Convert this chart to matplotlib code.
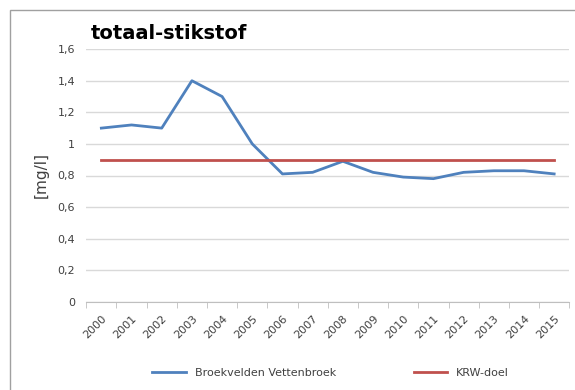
import matplotlib.pyplot as plt
import numpy as np

jaren = [str(j) for j in range(2000, 2016)]
stikstof = [1.10, 1.12, 1.10, 1.40, 1.30, 1.00, 0.81, 0.82, 0.89, 0.82, 0.79, 0.78, 0.82, 0.83, 0.83, 0.81]
krw_doel = [0.9] * 16

fig = plt.figure(figsize=(5.75, 3.9), dpi=100)
ax = fig.add_axes([0.15, 0.226, 0.84, 0.648])

x = np.arange(len(jaren))
ax.plot(x, stikstof, color='#4F81BD', lw=2, label='Broekvelden Vettenbroek')
ax.plot(x, krw_doel, color='#C0504D', lw=2, label='KRW-doel')

ax.set_xlim(-0.5, len(jaren) - 0.5)
ax.set_ylim(0, 1.6)
ax.set_yticks(np.arange(0, 1.61, 0.2))
ax.set_yticklabels(['0', '0,2', '0,4', '0,6', '0,8', '1', '1,2', '1,4', '1,6'], fontsize=8, color='#404040')
ax.set_xticks(x)
ax.set_xticklabels(jaren, rotation=45, ha='right', rotation_mode='anchor', fontsize=8, color='#404040')
ax.set_xticks(np.arange(-0.5, len(jaren)), minor=True)
ax.tick_params(axis='x', which='major', length=0, pad=8)
ax.tick_params(axis='x', which='minor', length=4, color='#BFBFBF')
ax.tick_params(axis='y', length=0, pad=8)

ax.grid(axis='y', color='#D9D9D9', lw=1)
ax.set_axisbelow(True)
for s in ['top', 'right', 'left']:
    ax.spines[s].set_visible(False)
ax.spines['bottom'].set_color('#BFBFBF')

ax.set_ylabel('[mg/l]', fontsize=11, color='#404040', labelpad=6)
fig.text(0.157, 0.9, 'totaal-stikstof', fontsize=14, fontweight='bold')

fig.legend(loc='lower center', bbox_to_anchor=(0.575, 0.005), ncol=2, frameon=False,
           fontsize=8, handlelength=3, columnspacing=7, labelcolor='#404040')

border = plt.Rectangle((0.017, -0.05), 1.1, 1.024, transform=fig.transFigure,
                       fill=False, edgecolor='#A0A0A0', lw=1)
fig.patches.append(border)

fig.savefig('out.png', dpi=100)
